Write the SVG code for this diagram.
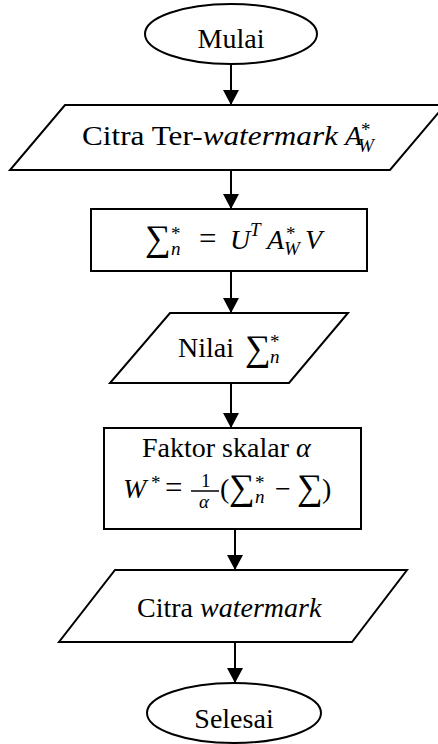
<svg xmlns="http://www.w3.org/2000/svg" width="438" height="744" viewBox="0 0 438 744" font-family="'Liberation Serif', 'DejaVu Serif', serif">
<style>
.shape{fill:#fff;stroke:#000;stroke-width:2}
.conn{stroke:#000;stroke-width:2;fill:none;marker-end:url(#arr)}
text{font-family:'Liberation Serif','DejaVu Serif',serif;font-size:28px;fill:#000}
.it{font-style:italic}
.sc{font-size:19px}
.big{font-size:36px}
.mid{text-anchor:middle}
</style>
<defs>
<marker id="arr" markerUnits="userSpaceOnUse" markerWidth="16" markerHeight="16" refX="15" refY="8" orient="auto">
<path d="M0,0 L15,8 L0,16 z" fill="#000"/>
</marker>
</defs>
<rect width="438" height="744" fill="#fff"/>
<g id="connectors">
<line class="conn" x1="231" y1="64" x2="231" y2="105"/>
<line class="conn" x1="231" y1="170" x2="231" y2="209"/>
<line class="conn" x1="231" y1="271" x2="231" y2="313"/>
<line class="conn" x1="231" y1="383" x2="231" y2="428"/>
<line class="conn" x1="235" y1="529" x2="235" y2="570"/>
<line class="conn" x1="235" y1="642" x2="235" y2="683"/>
</g>
<g id="mulai">
<ellipse class="shape" cx="231" cy="34" rx="86" ry="30"/>
<text class="mid" x="231" y="48">Mulai</text>
</g>
<g id="input-citra">
<polygon class="shape" points="65,105 445,105 390,170 10,170"/>
<text x="82" y="145" textLength="256" lengthAdjust="spacingAndGlyphs">Citra Ter-<tspan class="it">watermark</tspan></text>
<text x="345" y="145"><tspan class="it">A</tspan><tspan class="sc" x="361" y="136">*</tspan><tspan class="it sc" x="358" y="152">W</tspan></text>
</g>
<g id="proses-svd">
<rect class="shape" x="91" y="209" width="276" height="62"/>
<text x="145" y="250"><tspan class="big">∑</tspan><tspan class="sc" x="171" y="240">*</tspan><tspan class="it sc" x="171" y="255">n</tspan><tspan x="199" y="249" font-size="31">=</tspan><tspan class="it" x="230" y="249">U</tspan><tspan class="it sc" x="250" y="236">T</tspan><tspan class="it" x="267" y="249">A</tspan><tspan class="sc" x="286" y="240">*</tspan><tspan class="it sc" x="284" y="255">W</tspan><tspan class="it" x="305" y="249">V</tspan></text>
</g>
<g id="nilai">
<polygon class="shape" points="170,313 348,313 289,383 110,383"/>
<text x="178" y="357">Nilai<tspan class="big" x="245" y="360">∑</tspan><tspan class="sc" x="270" y="348">*</tspan><tspan class="it sc" x="270" y="363">n</tspan></text>
</g>
<g id="ekstraksi">
<rect class="shape" x="104" y="428" width="257" height="101"/>
<text x="142" y="457">Faktor skalar <tspan class="it">α</tspan></text>
<text x="123" y="498"><tspan class="it">W</tspan><tspan class="sc" x="151" y="489">*</tspan><tspan x="165" y="498" font-size="31">=</tspan><tspan class="sc" x="201" y="487">1</tspan><tspan class="it sc" x="199" y="508">α</tspan><tspan x="220" y="498">(</tspan><tspan class="big" x="229" y="499">∑</tspan><tspan class="sc" x="255" y="489">*</tspan><tspan class="it sc" x="255" y="503">n</tspan><tspan x="275" y="498">−</tspan><tspan class="big" x="297" y="499">∑</tspan><tspan x="322" y="498">)</tspan></text>
<line x1="191" y1="491" x2="219" y2="491" stroke="#000" stroke-width="1.5"/>
</g>
<g id="output-watermark">
<polygon class="shape" points="115,570 407,570 352,642 59,642"/>
<text x="137" y="617">Citra <tspan class="it">watermark</tspan></text>
</g>
<g id="selesai">
<ellipse class="shape" cx="234" cy="713" rx="87" ry="30"/>
<text class="mid" x="234" y="728">Selesai</text>
</g>
</svg>
